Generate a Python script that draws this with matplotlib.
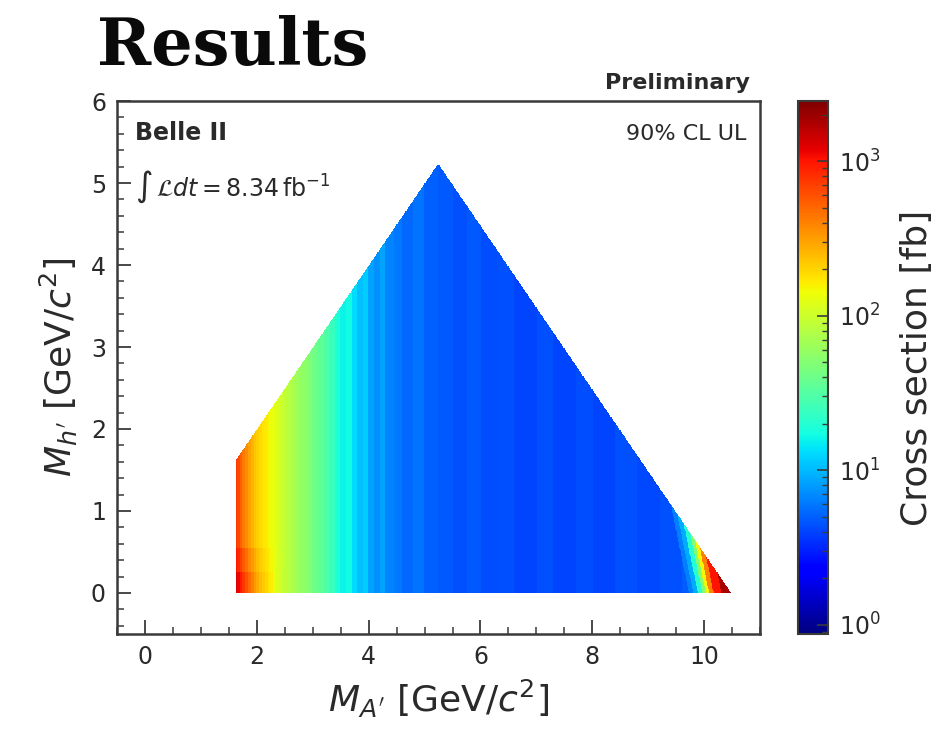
import numpy as np
import matplotlib
matplotlib.use("Agg")
import matplotlib.pyplot as plt
from matplotlib.colors import LogNorm
from matplotlib.ticker import MultipleLocator, LogLocator, NullFormatter

# 90% CL upper limit on the cross section [fb], in bins of dark-photon mass M_A'
ma_edges = [1.60, 1.65, 1.70, 1.75, 1.80, 1.85, 1.90, 1.95, 2.00, 2.05,
            2.10, 2.15, 2.20, 2.25, 2.30, 2.35, 2.40, 2.45, 2.50, 2.55,
            2.60, 2.65, 2.70, 2.75, 2.80, 2.85, 2.90, 2.95, 3.00, 3.10,
            3.20, 3.30, 3.40, 3.50, 3.60, 3.70, 3.80, 3.90, 4.00, 4.10,
            4.20, 4.30, 4.45, 4.60, 4.80, 5.00, 5.25, 5.50, 5.75, 6.00,
            6.30, 6.60, 7.00, 7.30, 7.70, 8.00, 8.40, 8.80, 9.20, 9.60,
            10.60]
xsec_vs_ma = [750, 650, 520, 430, 360, 300, 260, 225, 205, 190,
              175, 165, 150, 138, 125, 115, 105, 97, 90, 82,
              76, 70, 66, 61, 57, 54, 50, 47, 42, 36,
              30, 24, 19, 16, 17, 13, 10.5, 11.5, 8.5, 7.2,
              8.6, 6.6, 6.0, 5.4, 5.8, 5.0, 4.7, 4.4, 4.7, 4.3,
              4.5, 4.1, 4.4, 4.0, 4.3, 4.1, 4.4, 4.2, 4.5, 4.8]
# lowest dark-Higgs masses: stronger limits near threshold
mh_cut_1 = 0.25
xsec_vs_ma_mh_below_1 = [1300, 1150, 950, 750, 600, 480, 400, 330, 280, 240,
                         215, 195, 175, 160]
mh_cut_2 = 0.55
xsec_vs_ma_mh_below_2 = [1000, 850, 700, 560, 460, 380, 320, 280, 240, 215,
                         195, 180, 165, 150]

# rise towards the kinematic limit, in bins of M_A' + 0.3 M_h'
edge_weight = 0.3
edge_edges = [9.72, 9.80, 9.88, 9.96, 10.02, 10.08, 10.16, 10.30, 11.00]
edge_xsec = [6.5, 9, 20, 50, 150, 400, 1000, 1800]

# scanned mass plane
ma_min = 1.63
mh_gap = 0.02          # M_h' <= M_A' - gap
mass_sum_max = 10.48   # M_A' + M_h' <= limit

step = 0.01
ma_grid = np.arange(1.60, 10.56 + step, step)
mh_grid = np.arange(0.0, 5.30 + step, step)
ma_c = 0.5 * (ma_grid[1:] + ma_grid[:-1])
mh_c = 0.5 * (mh_grid[1:] + mh_grid[:-1])
MA, MH = np.meshgrid(ma_c, mh_c)

col = np.clip(np.digitize(MA, ma_edges) - 1, 0, len(xsec_vs_ma) - 1)
Z = np.asarray(xsec_vs_ma, float)[col]
for cut, vals in ((mh_cut_2, xsec_vs_ma_mh_below_2),
                  (mh_cut_1, xsec_vs_ma_mh_below_1)):
    sel = (MH < cut) & (col < len(vals))
    Z[sel] = np.asarray(vals, float)[col[sel]]

u = MA + edge_weight * MH
eidx = np.digitize(u, edge_edges) - 1
inside = (eidx >= 0) & (eidx < len(edge_xsec))
Zedge = np.zeros_like(Z)
Zedge[inside] = np.asarray(edge_xsec, float)[eidx[inside]]
Z = np.maximum(Z, Zedge)

allowed = (MA >= ma_min) & (MH <= MA - mh_gap) & (MA + MH <= mass_sum_max)
Z = np.ma.masked_where(~allowed, Z)

fig = plt.figure(figsize=(9.49, 7.32), dpi=100)
ax = fig.add_axes([0.1233, 0.1339, 0.6776, 0.7281])
norm = LogNorm(vmin=0.87, vmax=2450)
im = ax.imshow(Z, origin="lower", cmap="jet", norm=norm, aspect="auto",
               interpolation="nearest",
               extent=[ma_grid[0], ma_grid[-1], mh_grid[0], mh_grid[-1]])

ax.set_xlim(-0.5, 11)
ax.set_ylim(-0.5, 6)
ax.xaxis.set_major_locator(MultipleLocator(2))
ax.xaxis.set_minor_locator(MultipleLocator(0.5))
ax.yaxis.set_major_locator(MultipleLocator(1))
ax.yaxis.set_minor_locator(MultipleLocator(0.2))
frame_col = "#3a3a3a"
text_col = "#2a2a2a"
ax.tick_params(which="both", direction="in", colors=frame_col,
               labelcolor=text_col, top=False, right=False)
ax.tick_params(which="major", length=10, width=1.3, labelsize=17, pad=8)
ax.tick_params(which="minor", length=5, width=1.1)
for s in ax.spines.values():
    s.set_color(frame_col)
    s.set_linewidth(1.8)

ax.set_xlabel(r"$M_{A'}$ [GeV/$c^2$]", fontsize=26, color=text_col, labelpad=6)
ax.set_ylabel(r"$M_{h'}$ [GeV/$c^2$]", fontsize=26, color=text_col, labelpad=8)

ax.text(0.028, 0.94, "Belle II", transform=ax.transAxes, fontsize=17,
        fontweight="bold", color=text_col, va="center", ha="left")
ax.text(0.028, 0.839, r"$\int\,\mathcal{L}dt = 8.34\,\mathrm{fb}^{-1}$",
        transform=ax.transAxes, fontsize=17, color=text_col,
        va="center", ha="left")
ax.text(0.978, 0.938, "90% CL UL", transform=ax.transAxes, fontsize=16,
        color=text_col, va="center", ha="right")
ax.text(0.984, 1.034, "Preliminary", transform=ax.transAxes, fontsize=16,
        fontweight="bold", color=text_col, va="center", ha="right")

cax = fig.add_axes([0.841, 0.1339, 0.031, 0.7281])
cb = fig.colorbar(im, cax=cax)
cb.outline.set_edgecolor(frame_col)
cb.outline.set_linewidth(1.5)
cax.yaxis.set_major_locator(LogLocator(base=10, numticks=10))
cax.yaxis.set_minor_locator(LogLocator(base=10, subs=np.arange(2, 10), numticks=20))
cax.yaxis.set_minor_formatter(NullFormatter())
cax.tick_params(which="both", direction="in", colors=frame_col,
                labelcolor=text_col, right=True, left=False)
cax.tick_params(which="major", length=8, width=1.2, labelsize=17, pad=8)
cax.tick_params(which="minor", length=4, width=1.0)
cb.set_label("Cross section [fb]", fontsize=26, color=text_col, labelpad=14)

fig.text(0.102, 0.911, "Results", fontsize=47, fontweight="bold",
         family="DejaVu Serif", color="#0a0a0a", ha="left", va="baseline")

fig.savefig("out.png", dpi=100, facecolor="white")
